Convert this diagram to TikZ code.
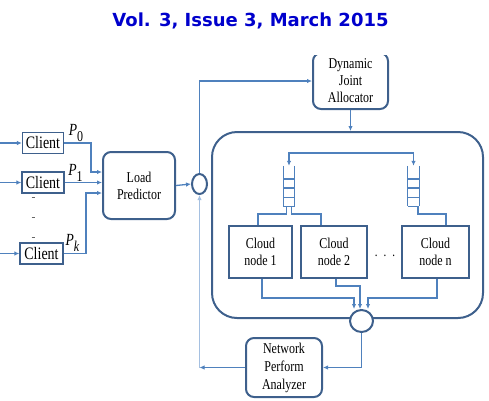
\documentclass[tikz,border=0pt]{standalone}
\usepackage{fontspec}
\setmainfont[FakeStretch=0.8]{Liberation Serif}
\newfontfamily\titlefont{DejaVu Sans}
\usetikzlibrary{arrows.meta,shapes.geometric,calc}
\definecolor{linecol}{RGB}{79,129,189}
\definecolor{boxcol}{RGB}{62,96,140}
\definecolor{lightcol}{RGB}{165,192,225}
\definecolor{titlecol}{RGB}{0,0,204}
\newcommand\plab[1]{{\fontsize{17}{17}\selectfont\itshape P}\raisebox{-6pt}{\fontsize{15}{15}\selectfont #1}}
\begin{document}
\begin{tikzpicture}[x=1pt,y=-1pt,
 line/.style={draw=linecol, line width=1.3pt},
 arr/.style={line, -{Latex[length=5pt,width=4.5pt]}},
 client/.style={draw=boxcol, line width=1.3pt, minimum width=41pt, minimum height=21pt, inner sep=0pt, font=\fontsize{17.5}{17.5}\selectfont},
 rbox/.style={draw=boxcol, line width=2pt, rounded corners=8pt, align=center, inner sep=0pt, font=\fontsize{15}{17}\selectfont},
 cloudbox/.style={draw=boxcol, line width=1.6pt, align=center, inner sep=0pt, minimum height=52pt, font=\fontsize{15}{17}\selectfont},
 queue/.style={minimum width=11pt, minimum height=40pt, inner sep=0pt},
 junction/.style={ellipse, draw=boxcol, line width=2pt, fill=white, inner sep=0pt},
 plabel/.style={inner sep=0pt},
]
\useasboundingbox (0,0) rectangle (489,400);

\node[font=\titlefont\bfseries\fontsize{18}{18}\selectfont, text=titlecol] (title) at (250.5,20.5) {Vol. 3, Issue 3, March 2015};

% clients
\node[client] (c0) at (43,143) {Client};
\node[client, minimum width=42pt] (c1) at (43,182.5) {Client};
\node[client, minimum width=43pt] (ck) at (41.5,253.5) {Client};
\coordinate (i0) at (0,143);
\coordinate (i1) at (0,182.5);
\coordinate (ik) at (0,253.5);
\draw[arr] (i0) -- (c0.west);
\draw[arr] (i1) -- (c1.west);
\draw[arr] (ik) -- (ck.west);
\foreach \y in {197,217,237} \draw[black!60, line width=0.8pt] (31.5,\y) -- (34.5,\y);

\node[plabel] (p0) at (76,133) {\plab{0}};
\node[plabel] (p1) at (75.5,173) {\plab{1}};
\node[plabel] (pk) at (72.5,243) {\plab{\itshape k}};

% load predictor
\node[rbox, minimum width=72pt, minimum height=67pt] (lp) at (139,185.5) {Load\\Predictor};
\coordinate (j0) at (91,172);
\coordinate (jk) at (86,193);
\draw[arr] (c0.east) -| (j0) -- (j0 -| lp.west);
\draw[arr] (c1.east) -- (c1.east -| lp.west);
\draw[arr] (ck.east) -| (jk) -- (jk -| lp.west);

% junction 1
\node[junction, minimum width=15pt, minimum height=20pt] (o1) at (199.5,184) {};
\draw[arr] (lp.east) -- (o1.west);

% dynamic joint allocator
\begin{scope}
\clip (0,55) rectangle (489,400);
\node[rbox, minimum width=75pt, minimum height=56pt] (dja) at (350.5,81) {Dynamic\\Joint\\Allocator};
\end{scope}
\draw[arr] (o1.north) |- (dja.west);

% big box
\node[draw=boxcol, line width=2pt, rounded corners=25pt, minimum width=271pt, minimum height=186pt] (big) at (347.5,225) {};
\draw[arr] (dja.south) -- (dja.south |- big.north);

% queues
\node[queue] (q1) at (289,186) {};
\node[queue] (qn) at (413.5,186) {};
\foreach \q in {q1,qn} {
  \draw[line, line width=1.2pt] (\q.north west) -- (\q.south west) (\q.north east) -- (\q.south east);
  \foreach \f in {0,0.225,0.45,0.675}
    \draw[line, line width=1.2pt] ($(\q.south west)!\f!(\q.north west)$) -- ($(\q.south east)!\f!(\q.north east)$);
}
\coordinate (tn) at (413.5,153);
\draw[line, {Latex[length=5pt,width=4.5pt]}-{Latex[length=5pt,width=4.5pt]}] (q1.north) |- (tn) -- (qn.north);

% cloud nodes
\node[cloudbox, minimum width=63pt] (cl1) at (260.5,252) {Cloud\\node 1};
\node[cloudbox, minimum width=66pt] (cl2) at (334,252) {Cloud\\node 2};
\node[cloudbox, minimum width=67pt] (cln) at (435.5,252) {Cloud\\node n};
\node[font=\fontsize{14}{14}\selectfont, inner sep=0pt] (dots) at (385,258) {·\hspace{5pt}·\hspace{5pt}·};

\coordinate (b1) at (258,214);
\coordinate (b2) at (321,214);
\coordinate (bn) at (446,214);
\draw[line] ([xshift=-2.5pt]q1.south) |- (b1) -- (b1 |- cl1.north);
\draw[line] ([xshift=2.5pt]q1.south) |- (b2) -- (b2 |- cl2.north);
\draw[line] ([xshift=4.5pt]qn.south) |- (bn) -- (bn |- cln.north);

% junction 2
\node[junction, minimum width=23pt, minimum height=22pt] (o2) at (361.5,321) {};
\coordinate (d1) at (262,298);
\coordinate (d2) at (336,286);
\coordinate (dn) at (437,298);
\draw[arr] (d1 |- cl1.south) -- (d1) -| ([xshift=-7.5pt]o2.north);
\draw[arr] (d2 |- cl2.south) -- (d2) -| ([xshift=-1.5pt]o2.north);
\draw[arr] (dn |- cln.south) -- (dn) -| ([xshift=6.5pt]o2.north);

% network perform analyzer
\node[rbox, minimum width=76pt, minimum height=59pt, font=\fontsize{15}{18}\selectfont] (npa) at (284,367.5) {Network\\Perform\\Analyzer};
\draw[arr] (o2.south) |- (npa.east);
\coordinate (r) at (o1 |- npa.west);
\draw[arr] (npa.west) -- (r);
\draw[line, draw=lightcol, -{Latex[length=5pt,width=4.5pt]}] (r) -- (o1.south);
\end{tikzpicture}
\end{document}
